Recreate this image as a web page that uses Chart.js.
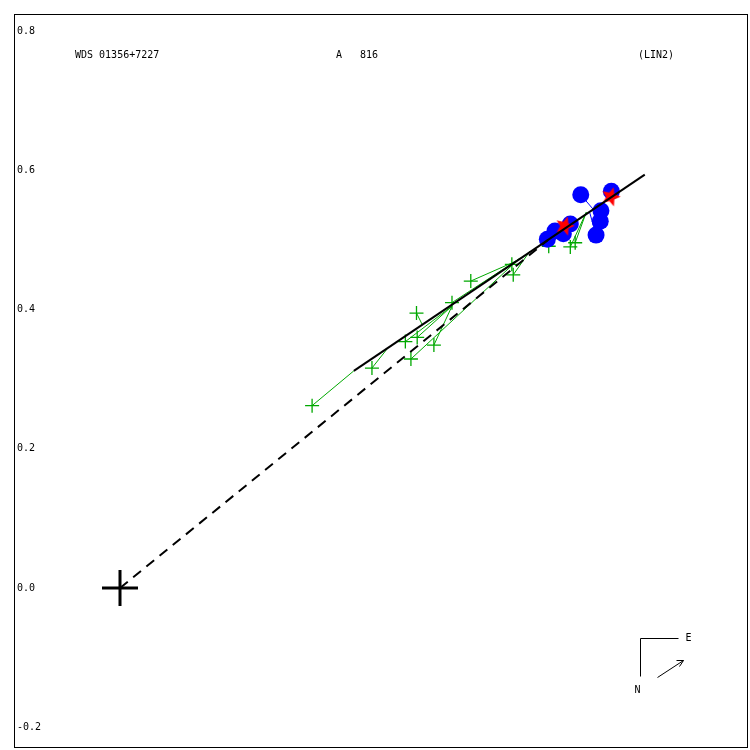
<!DOCTYPE html>
<html>
<head>
<meta charset="utf-8">
<script src="https://cdn.jsdelivr.net/npm/chart.js@4/dist/chart.umd.min.js"></script>
<style>
  body { margin: 0; background: #fff; }
  #wrap { width: 750px; height: 750px; }
</style>
</head>
<body>
<div id="wrap"><canvas id="myChart" width="750" height="750"></canvas></div>
<script>
// labels
var starName = "WDS 01356+7227";
var pairName = "A   816";
var fitName = "(LIN2)";

// y tick labels
var tickVals = [-0.2, 0, 0.2, 0.4, 0.6, 0.8];

// green plus observations and where they land on the fit
var grnX = [0.276, 0.362, 0.410, 0.426, 0.427, 0.418, 0.451, 0.477, 0.504, 0.563, 0.565, 0.616, 0.647, 0.654];
var grnY = [0.262, 0.316, 0.354, 0.395, 0.360, 0.329, 0.349, 0.410, 0.441, 0.465, 0.450, 0.491, 0.490, 0.496];
var grnPx = [0.336, 0.385, 0.477, 0.434, 0.477, 0.568, 0.477, 0.575, 0.572, 0.582, 0.589, 0.621, 0.670, 0.670];
var grnPy = [0.312, 0.345, 0.405, 0.379, 0.405, 0.468, 0.405, 0.474, 0.471, 0.478, 0.484, 0.503, 0.540, 0.540];

// blue circle observations and their fit positions
var bluX = [0.614, 0.625, 0.637, 0.647, 0.662, 0.684, 0.690, 0.691, 0.706];
var bluY = [0.501, 0.513, 0.509, 0.523, 0.565, 0.507, 0.527, 0.542, 0.570];
var bluPx = [0.613, 0.628, 0.634, 0.647, 0.680, 0.675, 0.680, 0.690, 0.708];
var bluPy = [0.499, 0.509, 0.513, 0.522, 0.544, 0.539, 0.544, 0.551, 0.563];

// red star observations
var redX = [0.639, 0.705];
var redY = [0.520, 0.562];

// linear fit and the dashed line from the primary
var fitX = [0.336, 0.754];
var fitY = [0.312, 0.594];
var dashX = [0, 0.615];
var dashY = [0, 0.500];

// axis limits
var xMin = -0.1523, xMax = 0.9023;
var yMin = -0.2299, yMax = 0.8247;

function pts(xs, ys) {
  var out = [];
  for (var i = 0; i < xs.length; i++) out.push({x: xs[i], y: ys[i]});
  return out;
}

// pairs of points split by gaps so one dataset draws many short lines
function residuals(xs, ys, px, py) {
  var out = [];
  for (var i = 0; i < xs.length; i++) {
    out.push({x: xs[i], y: ys[i]});
    out.push({x: px[i], y: py[i]});
    out.push({x: null, y: null});
  }
  return out;
}

// filled red star marker
function makeStar(r) {
  var c = document.createElement('canvas');
  c.width = r * 2 + 2; c.height = r * 2 + 2;
  var g = c.getContext('2d');
  g.fillStyle = '#ff0000';
  g.beginPath();
  for (var i = 0; i < 10; i++) {
    var a = -Math.PI / 2 + i * Math.PI / 5 + 0.3;
    var rr = (i % 2 === 0) ? r : r * 0.45;
    g.lineTo(r + 1 + rr * Math.cos(a), r + 1 + rr * Math.sin(a));
  }
  g.closePath();
  g.fill();
  return c;
}

// frame, header text and compass
var decor = {
  id: 'decor',
  afterDraw: function(chart) {
    var ctx = chart.ctx, a = chart.chartArea;
    var sx = chart.scales.x, sy = chart.scales.y;
    ctx.save();
    ctx.strokeStyle = '#000';
    ctx.lineWidth = 1;
    ctx.strokeRect(a.left + 0.5, a.top + 0.5, a.right - a.left - 1, a.bottom - a.top - 1);

    ctx.fillStyle = '#000';
    ctx.font = '10px "DejaVu Sans Mono"';
    ctx.textBaseline = 'middle';
    ctx.textAlign = 'left';
    ctx.fillText(starName, a.left + 61, a.top + 41);
    ctx.fillText(pairName, a.left + 322, a.top + 41);
    ctx.fillText(fitName, a.left + 624, a.top + 41);

    // compass
    var cx = Math.round(sx.getPixelForValue(0.747)) + 0.5;
    var cy = Math.round(sy.getPixelForValue(-0.072)) + 0.5;
    ctx.beginPath();
    ctx.moveTo(cx, cy + 38);
    ctx.lineTo(cx, cy);
    ctx.lineTo(cx + 38, cy);
    ctx.moveTo(cx + 17, cy + 39);
    ctx.lineTo(cx + 43, cy + 22);
    ctx.lineTo(cx + 36, cy + 22);
    ctx.moveTo(cx + 43, cy + 22);
    ctx.lineTo(cx + 39, cy + 28);
    ctx.stroke();
    ctx.fillText('E', cx + 45, cy);
    ctx.fillText('N', cx - 6, cy + 52);
    ctx.restore();
  }
};

var ctx = document.getElementById('myChart');

var myChart = new Chart(ctx, {
  type: 'scatter',
  data: {
    datasets: [
      {
        data: residuals(grnX, grnY, grnPx, grnPy),
        showLine: true, spanGaps: false,
        borderColor: '#00a800', borderWidth: 1,
        pointRadius: 0, order: 8
      },
      {
        data: pts(grnX, grnY),
        pointStyle: 'cross', pointRadius: 7,
        borderColor: '#00a800', borderWidth: 1.3,
        order: 7
      },
      {
        data: residuals(bluX, bluY, bluPx, bluPy),
        showLine: true, spanGaps: false,
        borderColor: '#0000ff', borderWidth: 1,
        pointRadius: 0, order: 6
      },
      {
        data: pts(bluX, bluY),
        pointStyle: 'circle', pointRadius: 8.5,
        backgroundColor: '#0000ff', borderColor: '#0000ff', borderWidth: 0,
        order: 5
      },
      {
        data: pts(redX, redY),
        pointStyle: makeStar(10),
        order: 4
      },
      {
        data: pts(dashX, dashY),
        showLine: true, borderDash: [10, 7],
        borderColor: '#000', borderWidth: 2,
        pointRadius: 0, order: 3
      },
      {
        data: pts(fitX, fitY),
        showLine: true,
        borderColor: '#000', borderWidth: 2,
        pointRadius: 0, order: 2
      },
      {
        data: [{x: 0, y: 0}],
        pointStyle: 'cross', pointRadius: 18,
        borderColor: '#000', borderWidth: 3,
        order: 1
      }
    ]
  },
  options: {
    responsive: false,
    animation: false,
    devicePixelRatio: 1,
    layout: { autoPadding: false, padding: { left: 14, top: 14, right: 2, bottom: 2 } },
    plugins: {
      legend: { display: false },
      tooltip: { enabled: false }
    },
    scales: {
      x: { type: 'linear', min: xMin, max: xMax, display: false },
      y: {
        type: 'linear', min: yMin, max: yMax,
        grid: { display: false },
        border: { display: false },
        afterBuildTicks: function(scale) {
          scale.ticks = tickVals.map(function(v) { return {value: v}; });
        },
        afterFit: function(scale) {
          scale.width = 0;
          scale.paddingTop = 0;
          scale.paddingBottom = 0;
        },
        ticks: {
          mirror: true, padding: 3,
          color: '#000',
          font: { family: 'DejaVu Sans Mono', size: 10 },
          callback: function(v) { return v.toFixed(1); }
        }
      }
    }
  },
  plugins: [decor]
});
</script>
</body>
</html>
